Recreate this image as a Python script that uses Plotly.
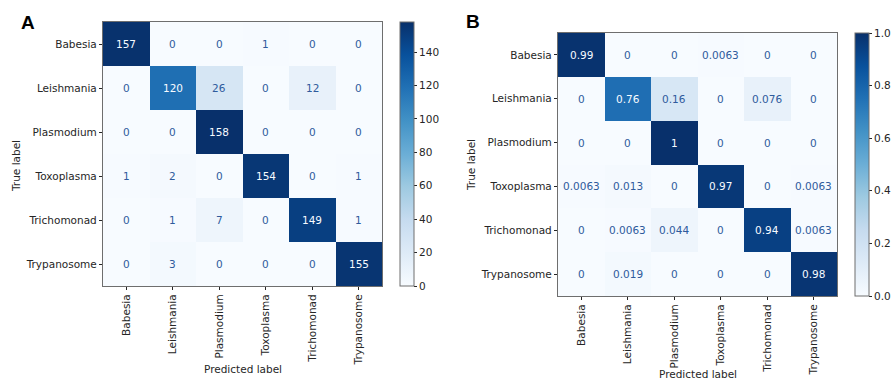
import plotly.graph_objects as go

classes = ["Babesia", "Leishmania", "Plasmodium", "Toxoplasma", "Trichomonad", "Trypanosome"]

counts = [
    [157, 0, 0, 1, 0, 0],
    [0, 120, 26, 0, 12, 0],
    [0, 0, 158, 0, 0, 0],
    [1, 2, 0, 154, 0, 1],
    [0, 1, 7, 0, 149, 1],
    [0, 3, 0, 0, 0, 155],
]

normalized = [
    [0.99, 0, 0, 0.0063, 0, 0],
    [0, 0.76, 0.16, 0, 0.076, 0],
    [0, 0, 1, 0, 0, 0],
    [0.0063, 0.013, 0, 0.97, 0, 0.0063],
    [0, 0.0063, 0.044, 0, 0.94, 0.0063],
    [0, 0.019, 0, 0, 0, 0.98],
]

count_ticks = [0, 20, 40, 60, 80, 100, 120, 140]
norm_ticks = [0.0, 0.2, 0.4, 0.6, 0.8, 1.0]
norm_tick_text = ["0.0", "0.2", "0.4", "0.6", "0.8", "1.0"]

blues = ["#f7fbff", "#deebf7", "#c6dbef", "#9ecae1", "#6baed6",
         "#4292c6", "#2171b5", "#08519c", "#08306b"]
colorscale = [[i / 8, c] for i, c in enumerate(blues)]

W, H = 895, 382
FONT = "DejaVu Sans"
FS = 10.5
TXT = "#262626"
FRAME = "#6e6e6e"
LIGHT_TXT = "#2f5b9c"
DARK_TXT = "#f7fbff"


def px(x):
    return x / W


def py(y):
    return 1 - y / H


# panel geometry (pixels)
A = dict(x0=103, x1=382, y0=22, y1=286, cb0=400, cb1=414)
B = dict(x0=558, x1=837, y0=33, y1=296, cb0=855, cb1=869)

fig = go.Figure()

fig.add_trace(go.Heatmap(
    z=counts, x=classes, y=classes, colorscale=colorscale, zmin=0, zmax=158,
    xaxis="x", yaxis="y", hoverinfo="skip",
    colorbar=dict(
        x=px(A["cb0"]), xanchor="left", y=py((A["y0"] + A["y1"]) / 2), yanchor="middle",
        len=A["y1"] - A["y0"], lenmode="pixels", thickness=A["cb1"] - A["cb0"],
        thicknessmode="pixels", outlinecolor=FRAME, outlinewidth=1,
        tickvals=count_ticks, ticks="outside", ticklen=3, tickcolor=TXT,
        tickfont=dict(family=FONT, size=FS, color=TXT), xpad=0, ypad=0,
    ),
))

fig.add_trace(go.Heatmap(
    z=normalized, x=classes, y=classes, colorscale=colorscale, zmin=0, zmax=1,
    xaxis="x2", yaxis="y2", hoverinfo="skip",
    colorbar=dict(
        x=px(B["cb0"]), xanchor="left", y=py((B["y0"] + B["y1"]) / 2), yanchor="middle",
        len=B["y1"] - B["y0"], lenmode="pixels", thickness=B["cb1"] - B["cb0"],
        thicknessmode="pixels", outlinecolor=FRAME, outlinewidth=1,
        tickvals=norm_ticks, ticktext=norm_tick_text, ticks="outside", ticklen=3,
        tickcolor=TXT, tickfont=dict(family=FONT, size=FS, color=TXT), xpad=0, ypad=0,
    ),
))

annotations = []


def fmt_g(v):
    if v == 0:
        return "0"
    return f"{v:.2g}"


for i, row in enumerate(counts):
    for j, v in enumerate(row):
        annotations.append(dict(
            x=classes[j], y=classes[i], xref="x", yref="y", text=str(v), showarrow=False,
            font=dict(family=FONT, size=FS, color=DARK_TXT if v > 79 else LIGHT_TXT)))

for i, row in enumerate(normalized):
    for j, v in enumerate(row):
        annotations.append(dict(
            x=classes[j], y=classes[i], xref="x2", yref="y2", text=fmt_g(v), showarrow=False,
            font=dict(family=FONT, size=FS, color=DARK_TXT if v > 0.5 else LIGHT_TXT)))

# panel letters
for xc, yc, t in [(28, 22, "<b>A</b>"), (473, 21, "<b>B</b>")]:
    annotations.append(dict(x=px(xc), y=py(yc), xref="paper", yref="paper", text=t,
                            xanchor="center", yanchor="middle", showarrow=False,
                            font=dict(family="Liberation Sans", size=19, color="#000")))

# axis titles
for xc, yc, t, ang in [
    ((A["x0"] + A["x1"]) / 2, 369, "Predicted label", 0),
    ((B["x0"] + B["x1"]) / 2, 374, "Predicted label", 0),
    (16, 166, "True label", -90),
    (471, 165, "True label", -90),
]:
    annotations.append(dict(x=px(xc), y=py(yc), xref="paper", yref="paper", text=t,
                            xanchor="center", yanchor="middle",
                            showarrow=False, textangle=ang,
                            font=dict(family=FONT, size=FS, color=TXT)))

axis_common = dict(
    showline=True, mirror=True, linecolor=FRAME, linewidth=1.2, ticks="outside",
    ticklen=3, tickcolor=TXT, tickfont=dict(family=FONT, size=FS, color=TXT),
    showgrid=False, zeroline=False, fixedrange=True, automargin=False,
)

fig.update_layout(
    width=W, height=H, margin=dict(l=0, r=0, t=0, b=0, autoexpand=False),
    paper_bgcolor="white", plot_bgcolor="white", showlegend=False,
    xaxis=dict(domain=[px(A["x0"]), px(A["x1"])], anchor="y", tickangle=-90, **axis_common),
    yaxis=dict(domain=[py(A["y1"]), py(A["y0"])], anchor="x", autorange="reversed", **axis_common),
    xaxis2=dict(domain=[px(B["x0"]), px(B["x1"])], anchor="y2", tickangle=-90, **axis_common),
    yaxis2=dict(domain=[py(B["y1"]), py(B["y0"])], anchor="x2", autorange="reversed", **axis_common),
    annotations=annotations,
)

fig.write_html(
    "out.html",
    config={"displayModeBar": False},
    post_script="document.body.style.margin='0';document.body.style.overflow='hidden';",
)
